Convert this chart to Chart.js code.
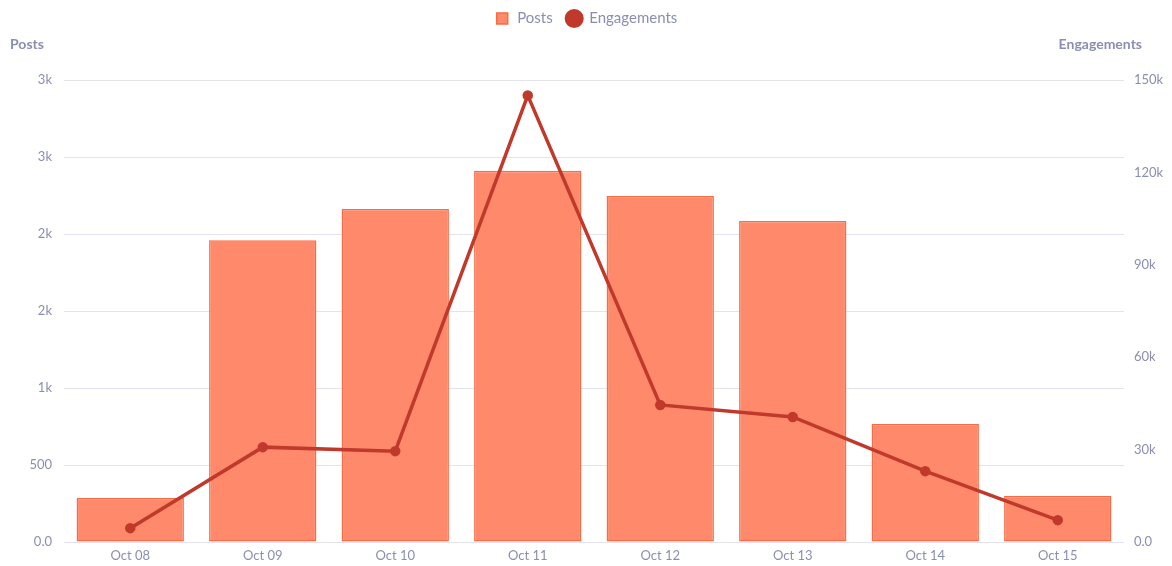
<!DOCTYPE html>
<html lang="en">
<head>
    <meta charset="UTF-8">
    <title>Posts and Engagements</title>
    <style>
        body {
            margin: 0;
            background-color: #ffffff;
            font-family: Lato, Arial, sans-serif;
        }

        .container {
            width: 1172px;
            height: 566px;
            position: relative;
        }
    </style>
</head>
<body>
    <div class="container">
        <canvas id="myChart"></canvas>
    </div>
    <script src="https://cdn.jsdelivr.net/npm/chart.js"></script>
    <script>
        // Fechas del eje x
        const days = ['Oct 08', 'Oct 09', 'Oct 10', 'Oct 11', 'Oct 12', 'Oct 13', 'Oct 14', 'Oct 15'];

        // Valores
        const posts = [286, 1960, 2162, 2410, 2247, 2084, 766, 299];
        const engagements = [4500, 30800, 29500, 145000, 44500, 40600, 23000, 7100];

        // Etiquetas de los ejes tal como aparecen
        const postsTicks = ['0.0', '500', '1k', '2k', '2k', '3k', '3k'];
        const engagementTicks = ['0.0', '30k', '60k', '90k', '120k', '150k'];

        const textColor = '#8a8eb2';
        const gridColor = '#e3e3ef';
        const fontFamily = 'Lato, Arial, sans-serif';

        // Titulos horizontales arriba de cada eje + espacio bajo la leyenda
        const axisTitles = {
            id: 'axisTitles',
            afterInit(chart) {
                const legend = chart.legend;
                const origFit = legend.fit;
                legend.fit = function () {
                    origFit.call(this);
                    this.height += 44;
                };
            },
            afterDraw(chart) {
                const ctx = chart.ctx;
                ctx.save();
                ctx.fillStyle = textColor;
                ctx.font = 'bold 14px ' + fontFamily;
                ctx.textBaseline = 'middle';
                ctx.textAlign = 'left';
                ctx.fillText('Posts', 10, 44);
                ctx.textAlign = 'right';
                ctx.fillText('Engagements', 1142, 44);
                ctx.restore();
            }
        };

        const ctx = document.getElementById('myChart').getContext('2d');

        const myChart = new Chart(ctx, {
            data: {
                labels: days,
                datasets: [
                    {
                        type: 'line',
                        label: 'Engagements',
                        data: engagements,
                        yAxisID: 'y1',
                        borderColor: '#c0392b',
                        backgroundColor: '#c0392b',
                        borderWidth: 3.5,
                        pointRadius: 3.5,
                        pointStyle: 'circle',
                        tension: 0,
                        order: 0
                    },
                    {
                        type: 'bar',
                        label: 'Posts',
                        data: posts,
                        yAxisID: 'y',
                        backgroundColor: '#ff8a6b',
                        borderColor: '#fa6a44',
                        borderWidth: 1.5,
                        borderSkipped: false,
                        pointStyle: 'rect',
                        categoryPercentage: 1,
                        barPercentage: 0.81,
                        order: 1
                    }
                ]
            },
            options: {
                responsive: true,
                maintainAspectRatio: false,
                animation: false,
                layout: {
                    padding: { top: -3, bottom: 0 }
                },
                plugins: {
                    legend: {
                        position: 'top',
                        reverse: true,
                        labels: {
                            usePointStyle: true,
                            color: textColor,
                            font: { size: 15, family: fontFamily },
                            padding: 14,
                            boxHeight: 11
                        }
                    },
                    tooltip: { enabled: false }
                },
                scales: {
                    x: {
                        afterFit(scale) { scale.height = 24; },
                        grid: { display: false, drawTicks: false },
                        border: { display: false },
                        ticks: {
                            padding: 6,
                            color: textColor,
                            font: { size: 13, family: fontFamily }
                        }
                    },
                    y: {
                        position: 'left',
                        min: 0,
                        max: 3000,
                        afterFit(scale) { scale.width = 64; },
                        grid: { color: gridColor, drawTicks: false },
                        border: { display: false },
                        ticks: {
                            stepSize: 500,
                            padding: 12,
                            color: textColor,
                            font: { size: 13, family: fontFamily },
                            callback: (v, i) => postsTicks[i]
                        }
                    },
                    y1: {
                        position: 'right',
                        min: 0,
                        max: 150000,
                        afterFit(scale) { scale.width = 48; },
                        grid: { display: false, drawTicks: false },
                        border: { display: false },
                        ticks: {
                            stepSize: 30000,
                            padding: 10,
                            color: textColor,
                            font: { size: 13, family: fontFamily },
                            callback: (v, i) => engagementTicks[i]
                        }
                    }
                }
            },
            plugins: [axisTitles]
        });
    </script>
</body>
</html>
